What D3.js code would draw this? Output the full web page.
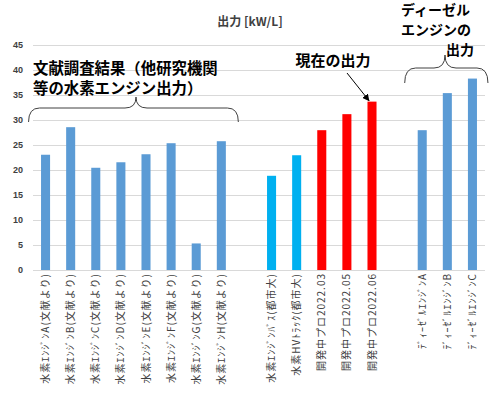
<!DOCTYPE html>
<html>
<head>
<meta charset="utf-8">
<script src="https://cdn.jsdelivr.net/npm/d3@7"></script>
<style>
    html, body { margin: 0; padding: 0; background: #fff; }
    svg { display: block; font-family: "Noto Sans CJK JP", "Noto Sans", sans-serif; }
</style>
</head>
<body>
<svg id="chart" width="500" height="414"></svg>
<script>
(function (d3) {
    'use strict';

    // categories, empty strings are the gaps between the groups
    var categories = [
        '水素ｴﾝｼﾞﾝA(文献より)', '水素ｴﾝｼﾞﾝB(文献より)', '水素ｴﾝｼﾞﾝC(文献より)', '水素ｴﾝｼﾞﾝD(文献より)',
        '水素ｴﾝｼﾞﾝE(文献より)', '水素ｴﾝｼﾞﾝF(文献より)', '水素ｴﾝｼﾞﾝG(文献より)', '水素ｴﾝｼﾞﾝH(文献より)',
        '',
        '水素ｴﾝｼﾞﾝﾊﾞｽ(都市大)', '水素HVﾄﾗｯｸ(都市大)',
        '開発中プロ2022.03', '開発中プロ2022.05', '開発中プロ2022.06',
        '',
        'ﾃﾞｨｰｾﾞﾙｴﾝｼﾞﾝA', 'ﾃﾞｨｰｾﾞﾙｴﾝｼﾞﾝB', 'ﾃﾞｨｰｾﾞﾙｴﾝｼﾞﾝC'
    ];
    var values = [23, 28.5, 20.4, 21.5, 23.1, 25.3, 5.3, 25.7, null,
                  18.8, 22.9, 27.9, 31.1, 33.6, null, 27.9, 35.3, 38.2];
    var groups = ['lit', 'lit', 'lit', 'lit', 'lit', 'lit', 'lit', 'lit', '',
                  'tcu', 'tcu', 'now', 'now', 'now', '', 'dsl', 'dsl', 'dsl'];
    var yTicks = [0, 5, 10, 15, 20, 25, 30, 35, 40, 45];
    var title = '出力 [kW/L]';
    var noteLit = ['文献調査結果（他研究機関', '等の水素エンジン出力）'];
    var noteNow = '現在の出力';
    var noteDsl = ['ディーゼル', 'エンジンの', '出力'];

    var svg = d3.select('#chart');

    var x = d3.scaleBand()
        .domain(categories.map(function (d, i) { return i; }))
        .range([33, 485])
        .paddingInner(0.64)
        .paddingOuter(0.32);

    var y = d3.scaleLinear().domain([0, 45]).range([270, 44.5]);

    var color = d3.scaleOrdinal()
        .domain(['lit', 'tcu', 'now', 'dsl'])
        .range(['#5B9BD5', '#00B0F0', '#FF0000', '#5B9BD5']);

    function cx(i) { return x(i) + x.bandwidth() / 2; }

    var bars = values.map(function (v, i) {
        return { index: i, value: v, group: groups[i] };
    }).filter(function (d) { return d.value !== null; });

    // grid
    svg.append('g')
        .selectAll('line').data(yTicks).enter().append('line')
            .attr('x1', 33).attr('x2', 485)
            .attr('y1', function (d) { return Math.round(y(d)) + 0.5; })
            .attr('y2', function (d) { return Math.round(y(d)) + 0.5; })
            .attr('stroke', '#D9D9D9')
            .attr('stroke-width', 1);

    // y axis labels
    svg.append('g')
        .selectAll('text').data(yTicks).enter().append('text')
            .attr('x', 23)
            .attr('y', function (d) { return y(d); })
            .attr('dy', '0.35em')
            .attr('text-anchor', 'end')
            .attr('font-family', 'Liberation Sans, Arial, sans-serif')
            .attr('font-weight', 'bold')
            .attr('font-size', 9)
            .attr('fill', '#404040')
            .text(String);

    // bars
    svg.append('g')
        .selectAll('rect').data(bars).enter().append('rect')
            .attr('x', function (d) { return x(d.index); })
            .attr('width', x.bandwidth())
            .attr('y', function (d) { return y(d.value); })
            .attr('height', function (d) { return y(0) - y(d.value); })
            .attr('fill', function (d) { return color(d.group); });

    // category labels
    svg.append('g')
        .selectAll('text').data(categories).enter().append('text')
            .attr('transform', function (d, i) { return 'translate(' + cx(i) + ',273) rotate(-90)'; })
            .attr('dy', '0.35em')
            .attr('text-anchor', 'end')
            .attr('font-size', 10)
            .attr('letter-spacing', 1)
            .attr('fill', '#404040')
            .text(String);

    // title
    svg.append('text')
        .attr('x', 250).attr('y', 26)
        .attr('text-anchor', 'middle')
        .attr('font-size', 12)
        .attr('font-weight', 'bold')
        .attr('fill', '#404040')
        .text(title);

    // horizontal curly brace opening downward
    function brace(x0, x1, xm, yTip, yBody, yEnd) {
        var r = 11;
        var p = d3.path();
        p.moveTo(x0, yEnd);
        p.quadraticCurveTo(x0, yBody, x0 + r, yBody);
        p.lineTo(xm - r, yBody);
        p.quadraticCurveTo(xm, yBody, xm, yTip);
        p.quadraticCurveTo(xm, yBody, xm + r, yBody);
        p.lineTo(x1 - r, yBody);
        p.quadraticCurveTo(x1, yBody, x1, yEnd);
        return p.toString();
    }

    var notes = svg.append('g')
        .attr('font-weight', 'bold')
        .attr('fill', '#000');

    notes.selectAll('text.lit').data(noteLit).enter().append('text')
        .attr('class', 'lit')
        .attr('x', 33)
        .attr('y', function (d, i) { return 74 + i * 20; })
        .attr('font-size', 15.4)
        .text(String);

    svg.append('path')
        .attr('d', brace(x(0) - 12.5, x(7) + x.bandwidth() + 12.5, 136, 97, 108, 122))
        .attr('fill', 'none')
        .attr('stroke', '#404040')
        .attr('stroke-width', 1);

    notes.append('text')
        .attr('x', 333).attr('y', 66)
        .attr('text-anchor', 'middle')
        .attr('font-size', 15)
        .text(noteNow);

    notes.selectAll('text.dsl').data(noteDsl).enter().append('text')
        .attr('class', 'dsl')
        .attr('x', function (d, i) { return i < 2 ? 401 : 446; })
        .attr('y', function (d, i) { return 15 + i * 20; })
        .attr('font-size', 14)
        .text(String);

    svg.append('path')
        .attr('d', brace(x(15) - 13, x(17) + x.bandwidth() + 11, 445, 55, 68, 83))
        .attr('fill', 'none')
        .attr('stroke', '#404040')
        .attr('stroke-width', 1);

    // arrow to the latest value
    svg.append('defs').append('marker')
        .attr('id', 'head')
        .attr('viewBox', '0 0 10 10')
        .attr('refX', 9).attr('refY', 5)
        .attr('markerWidth', 7).attr('markerHeight', 7)
        .attr('orient', 'auto')
        .append('path').attr('d', 'M0,0L10,5L0,10Z').attr('fill', '#000');

    svg.append('line')
        .attr('x1', 347).attr('y1', 73)
        .attr('x2', cx(13) - 3).attr('y2', y(values[13]) - 1)
        .attr('stroke', '#000')
        .attr('stroke-width', 1)
        .attr('marker-end', 'url(#head)');
}(window.d3));
</script>
</body>
</html>
